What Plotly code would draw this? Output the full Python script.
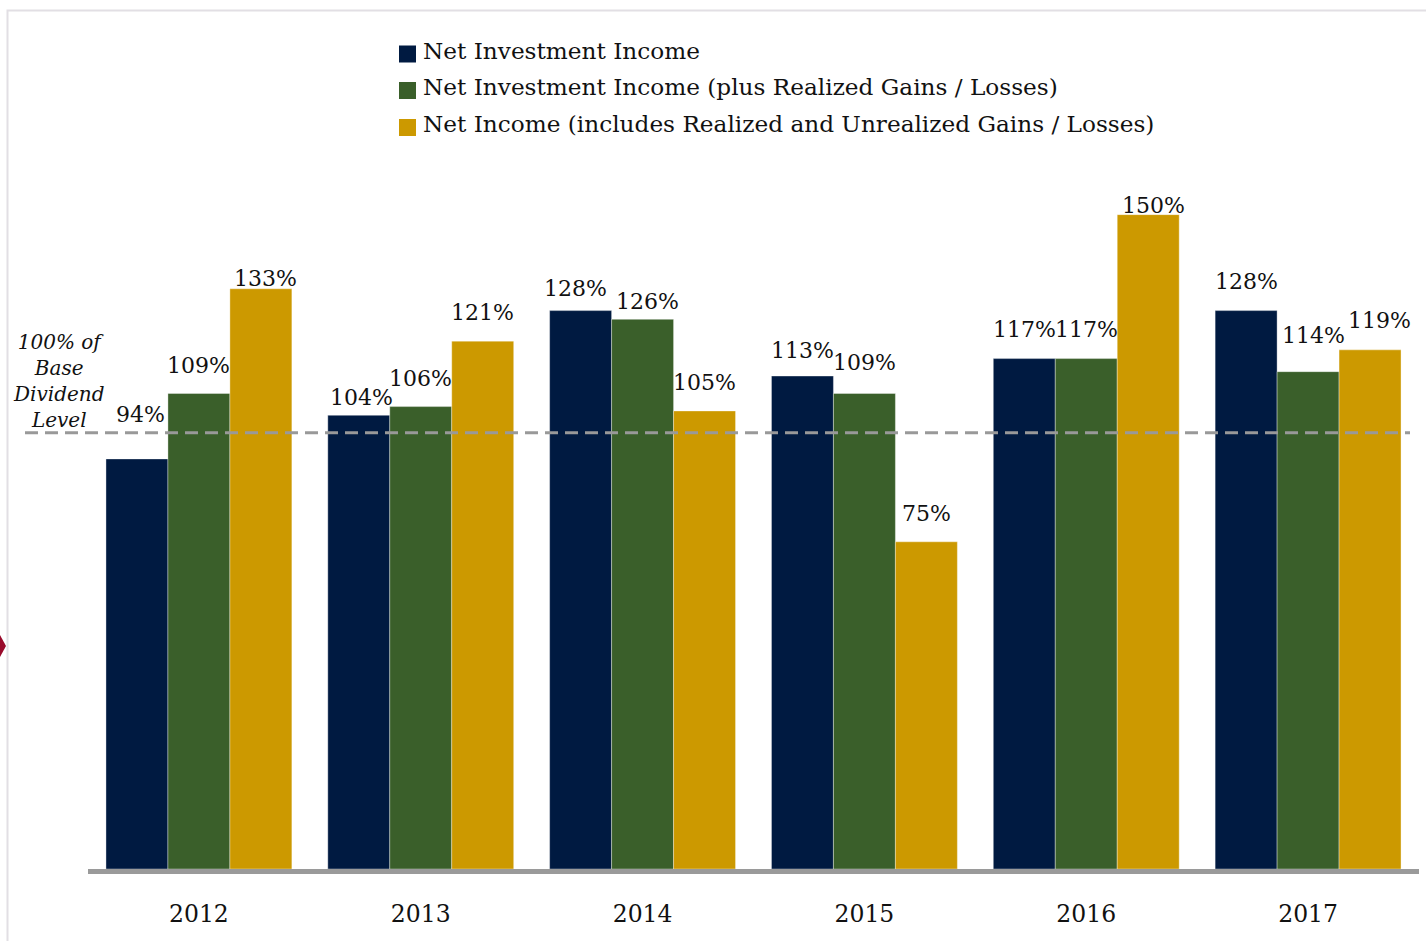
import plotly.graph_objects as go

# ---- data -------------------------------------------------------------
years = ["2012", "2013", "2014", "2015", "2016", "2017"]
series_names = [
    "Net Investment Income",
    "Net Investment Income (plus Realized Gains / Losses)",
    "Net Income (includes Realized and Unrealized Gains / Losses)",
]
nii = [94, 104, 128, 113, 117, 128]
nii_realized = [109, 106, 126, 109, 117, 114]
net_income = [133, 121, 105, 75, 150, 119]
base_level = 100
base_label = "100% of<br>Base<br>Dividend<br>Level"

# ---- styling ----------------------------------------------------------
colors = ["#001A41", "#3A5F2A", "#CC9900"]
FONT = "DejaVu Serif"
W, H = 1426, 941
L, R, T, B = 88, 7, 171, 72          # margins in px
PW, PH = W - L - R, H - T - B
BAR_SLOT = 0.279                        # width of one bar in category units

# nudges (px) for the value labels, per series / per year
label_dy = [
    [44, 18, 22, 26, 29, 29],
    [28, 28, 18, 31, 29, 36],
    [10, 29, 28, 28, 9, 29],
]
label_dx = [
    [3, 3, -5, 0, 0, 0],
    [0, 0, 5, 0, 0, 5],
    [5, 0, 0, 0, 5, 10],
]


def px_x(px):
    return (px - L) / PW


def px_y(py):
    return (H - B - py) / PH


fig = go.Figure()
all_series = [nii, nii_realized, net_income]
for name, vals, col in zip(series_names, all_series, colors):
    fig.add_trace(go.Bar(
        x=years, y=vals, name=name,
        marker=dict(color=col, line=dict(width=0.6, color="rgba(255,255,255,0.6)")),
        showlegend=False,
    ))

annotations = []
# value labels above each bar
for s, vals in enumerate(all_series):
    for i, v in enumerate(vals):
        annotations.append(dict(
            x=i + (s - 1) * BAR_SLOT, y=v, xref="x", yref="y",
            text=f"{v}%", showarrow=False,
            xanchor="center", yanchor="middle",
            xshift=label_dx[s][i], yshift=label_dy[s][i],
            font=dict(family=FONT, size=22, color="#111111"),
        ))

# reference-level caption
annotations.append(dict(
    x=px_x(58), y=px_y(381), xref="paper", yref="paper",
    text=f"<i>{base_label}</i>", showarrow=False,
    xanchor="center", yanchor="middle", align="center",
    font=dict(family=FONT, size=20, color="#111111"),
))

shapes = []
# dashed 100% reference line
shapes.append(dict(
    type="line", xref="paper", yref="y",
    x0=px_x(25), x1=px_x(1410), y0=base_level, y1=base_level,
    line=dict(color="#999999", width=3, dash="13px,7px"),
))

# legend drawn as swatches + text
legend_rows = [54, 90.5, 127.5]
for name, col, cy in zip(series_names, colors, legend_rows):
    shapes.append(dict(
        type="rect", xref="paper", yref="paper",
        x0=px_x(399), x1=px_x(416), y0=px_y(cy - 8.5), y1=px_y(cy + 8.5),
        fillcolor=col, line=dict(width=0),
    ))
    annotations.append(dict(
        x=px_x(421), y=px_y(cy - 4), xref="paper", yref="paper",
        text=name, showarrow=False, xanchor="left", yanchor="middle",
        font=dict(family=FONT, size=23.2, color="#111111"),
    ))

# page frame and side marker
shapes.append(dict(
    type="rect", xref="paper", yref="paper",
    x0=px_x(7.5), x1=px_x(1440), y0=px_y(960), y1=px_y(10.5),
    line=dict(color="#E2DFE4", width=2), fillcolor="rgba(0,0,0,0)", layer="below",
))
shapes.append(dict(
    type="path", xref="paper", yref="paper",
    path=(f"M {px_x(0)},{px_y(635)} L {px_x(6)},{px_y(646)} "
          f"L {px_x(0)},{px_y(657)} Z"),
    fillcolor="#990A2B", line=dict(width=0),
))

fig.update_layout(
    width=W, height=H, autosize=False,
    margin=dict(l=L, r=R, t=T, b=B, pad=0),
    paper_bgcolor="white", plot_bgcolor="white",
    barmode="group", bargap=0.162, bargroupgap=0,
    font=dict(family=FONT, color="#111111"),
    annotations=annotations, shapes=shapes,
    xaxis=dict(
        type="category", range=[-0.5, 5.5],
        showline=True, linecolor="#9A9A9A", linewidth=5,
        showgrid=False, ticks="", ticklabelstandoff=20,
        tickfont=dict(family=FONT, size=23.5, color="#111111"),
        fixedrange=True,
    ),
    yaxis=dict(range=[0, 160], visible=False, showgrid=False, fixedrange=True),
)

fig.write_html("out.html")
